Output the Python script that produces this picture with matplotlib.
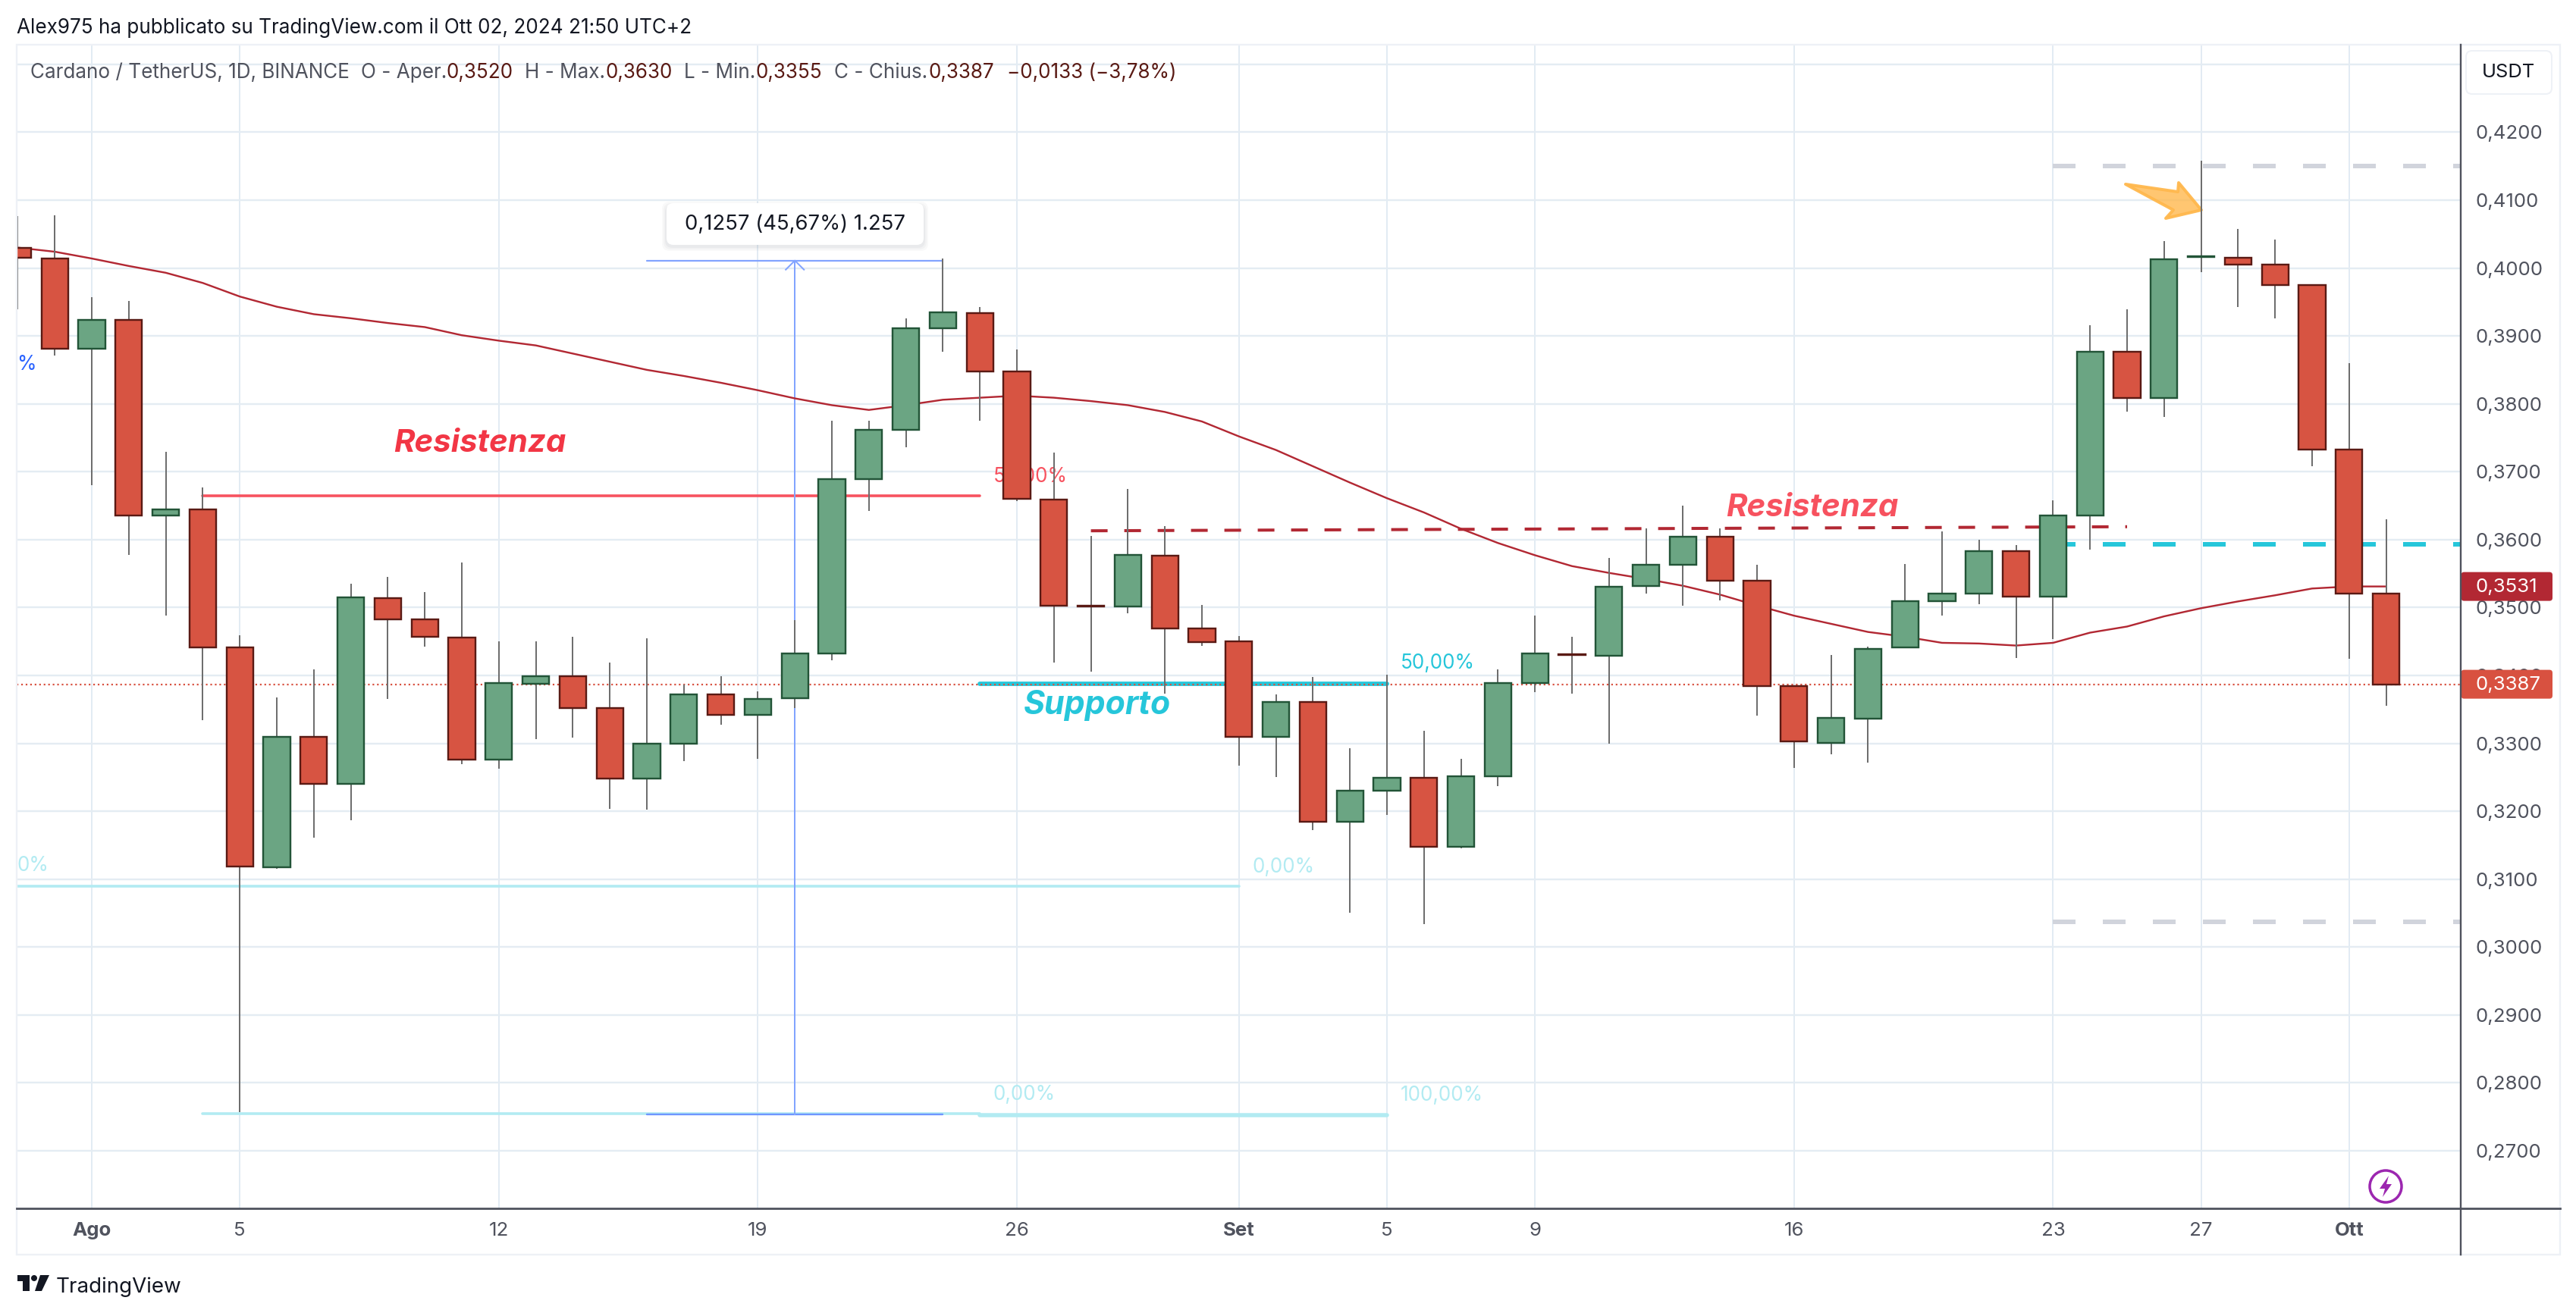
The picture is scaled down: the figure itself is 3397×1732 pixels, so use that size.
import matplotlib
matplotlib.use("Agg")
import matplotlib.pyplot as plt
import matplotlib.dates as mdates
import numpy as np
import pandas as pd
from matplotlib.patches import Polygon, Circle, FancyBboxPatch, Rectangle

plt.rcParams['font.family'] = ['Inter', 'DejaVu Sans']

W, H = 3397, 1732

# daily candles, 30 Jul -> 2 Oct 2024
dates = pd.date_range("2024-07-30", "2024-10-02", freq="D")
opens = [.4030, .4014, .3881, .3924, .3636, .3645, .3441, .3118, .3309, .3240, .3514, .3483, .3456, .3276,
         .3388, .3399, .3352, .3248, .3300, .3372, .3342, .3367, .3432, .3689, .3762, .3911, .3934, .3848,
         .3659, .3503, .3501, .3576, .3469, .3450, .3309, .3361, .3184, .3230, .3249, .3148, .3252, .3389,
         .3431, .3429, .3532, .3563, .3604, .3539, .3384, .3301, .3336, .3441, .3509, .3521, .3583, .3516,
         .3635, .3877, .3809, .4016, .4015, .4005, .3975, .3733, .3520]
closes = [.4015, .3881, .3924, .3635, .3645, .3441, .3119, .3309, .3240, .3515, .3483, .3457, .3276, .3389,
          .3399, .3352, .3248, .3300, .3372, .3342, .3365, .3432, .3689, .3762, .3911, .3935, .3848, .3660,
          .3503, .3502, .3577, .3469, .3449, .3310, .3361, .3184, .3230, .3249, .3148, .3252, .3389, .3432,
          .3430, .3531, .3563, .3604, .3539, .3384, .3303, .3337, .3439, .3509, .3521, .3583, .3516, .3636,
          .3877, .3809, .4013, .4017, .4005, .3975, .3733, .3520, .3387]
highs = [.4076, .4078, .3957, .3951, .3729, .3677, .3459, .3368, .3409, .3535, .3545, .3523, .3566, .3450,
         .3450, .3457, .3419, .3455, .3386, .3399, .3377, .3482, .3775, .3775, .3926, .4014, .3943, .3880,
         .3728, .3605, .3675, .3620, .3504, .3458, .3372, .3398, .3293, .3401, .3318, .3277, .3409, .3488,
         .3457, .3573, .3616, .3650, .3616, .3563, .3385, .3430, .3442, .3564, .3612, .3600, .3592, .3658,
         .3916, .3939, .4040, .4158, .4058, .4042, .3975, .3860, .3630]
lows = [.3939, .3871, .3680, .3577, .3488, .3334, .2757, .3115, .3161, .3187, .3365, .3442, .3269, .3263,
        .3306, .3308, .3204, .3202, .3274, .3327, .3277, .3352, .3422, .3642, .3736, .3877, .3775, .3657,
        .3419, .3406, .3491, .3373, .3444, .3267, .3250, .3172, .3050, .3194, .3034, .3145, .3237, .3375,
        .3373, .3300, .3520, .3503, .3510, .3341, .3264, .3284, .3272, .3441, .3488, .3505, .3426, .3453,
        .3585, .3789, .3781, .3994, .3943, .3926, .3708, .3424, .3355]
ma_line = [.4030, .4024, .4014, .4003, .3993, .3978, .3958, .3943, .3932, .3926, .3919, .3913, .3901, .3893,
           .3886, .3874, .3862, .3850, .3841, .3831, .3820, .3808, .3798, .3791, .3798, .3806, .3809, .3812,
           .3809, .3804, .3798, .3788, .3774, .3752, .3732, .3708, .3684, .3661, .3640, .3616, .3595, .3577,
           .3561, .3551, .3542, .3532, .3519, .3503, .3488, .3476, .3464, .3457, .3448, .3447, .3444, .3448,
           .3463, .3472, .3487, .3499, .3509, .3518, .3528, .3531, .3531]

price_ticks = [.27, .28, .29, .30, .31, .32, .33, .34, .35, .36, .37, .38, .39, .40, .41, .42, .43]
price_labels = ["0,2700", "0,2800", "0,2900", "0,3000", "0,3100", "0,3200", "0,3300", "0,3400", "0,3500",
                "0,3600", "0,3700", "0,3800", "0,3900", "0,4000", "0,4100", "0,4200", ""]
date_ticks = ["2024-08-01", "2024-08-05", "2024-08-12", "2024-08-19", "2024-08-26", "2024-09-01",
              "2024-09-05", "2024-09-09", "2024-09-16", "2024-09-23", "2024-09-27", "2024-10-01"]
date_labels = ["Ago", "5", "12", "19", "26", "Set", "5", "9", "16", "23", "27", "Ott"]

last_close = .3387
ma_last = .3531
GREEN, GREEN_EDGE = "#6BA583", "#225437"
RED, RED_EDGE = "#D75442", "#5A1A14"
CYAN = "#26C6DA"
LIGHT_CYAN = "#B2EBF2"
PINK = "#F7525F"
DARK_RED = "#B22833"
BLUE = "#2962FF"
RANGE_BLUE = "#82A4FF"
GREY_TXT = "#50535E"


def num(s):
    return mdates.date2num(pd.Timestamp(s))


def pt(px):
    # pixels to points at dpi 200
    return px * 72 / 200


fig = plt.figure(figsize=(W / 200, H / 200), dpi=200, facecolor="white")
LEFT, RIGHT, TOP, BOTTOM = 22, 3244.5, 59, 1594
ax = fig.add_axes([LEFT / W, 1 - BOTTOM / H, (RIGHT - LEFT) / W, (BOTTOM - TOP) / H])
over = fig.add_axes([0, 0, 1, 1], zorder=5)
over.set_xlim(0, W)
over.set_ylim(H, 0)
over.axis("off")

# scale of the main axes: 48.8 px per day, 8957 px per unit of price
aug1 = num("2024-08-01")
ax.set_xlim(aug1 - (121 - LEFT) / 48.8, aug1 + (RIGHT - 121) / 48.8)
ax.set_ylim(.42 - (BOTTOM - 174.4) / 8957, .42 + (174.4 - TOP) / 8957)

ax.set_yticks(price_ticks, price_labels)
ax.set_xticks([num(d) for d in date_ticks], date_labels)
ax.yaxis.tick_right()
ax.tick_params(axis="y", length=0, pad=pt(19.5), labelsize=9.3, labelcolor=GREY_TXT)
ax.tick_params(axis="x", length=0, pad=pt(18), labelsize=9.3, labelcolor=GREY_TXT)
for lab in ax.get_xticklabels():
    if lab.get_text() in ("Ago", "Set", "Ott"):
        lab.set_fontweight("bold")
ax.set_axisbelow(True)
ax.grid(axis="y", color="#E4ECF3", lw=pt(2.4))
ax.grid(axis="x", color="#E2EBF3", lw=pt(2))
for side in ("top", "left", "right", "bottom"):
    ax.spines[side].set_visible(False)


# drawings, all of them under the candles
def hl(a, b, y, c, w):
    ax.plot([num(a), num(b)], [y, y], color=c, lw=pt(w), zorder=2, solid_capstyle="round")


hl("2024-08-04", "2024-08-25", .3664, PINK, 3.6)
hl("2024-07-20", "2024-09-01", .3090, LIGHT_CYAN, 3.6)
hl("2024-08-04", "2024-08-25", .2755, LIGHT_CYAN, 3.6)
hl("2024-08-25", "2024-09-05", .2752, LIGHT_CYAN, 5.5)
hl("2024-08-25", "2024-09-05", .3388, CYAN, 5.8)
hl("2024-08-16", "2024-08-24", .4011, RANGE_BLUE, 2.2)
hl("2024-08-16", "2024-08-24", .2754, "#6E96FF", 2.4)
ax.plot([num("2024-08-28"), num("2024-09-25")], [.3613, .3619], color=DARK_RED, lw=pt(4), zorder=2,
        dashes=(22 / 4, 22 / 4), dash_capstyle="butt")
for y, col in ((.4150, "#D1D4DC"), (.3037, "#D1D4DC"), (.3593, CYAN)):
    ax.plot([num("2024-09-23"), num("2024-10-05")], [y, y], color=col, lw=pt(6), zorder=2,
            dashes=(5, 6), dash_capstyle="butt")
# price range arrow
mid = num("2024-08-20")
ax.plot([mid, mid], [.2754, .4011], color=RANGE_BLUE, lw=pt(2), zorder=2)
ax.plot([mid - .246, mid, mid + .246], [.39976, .4011, .39976], color=RANGE_BLUE, lw=pt(2), zorder=2)

ax.plot(mdates.date2num(dates), ma_line, color=DARK_RED, lw=pt(2.4), zorder=2.5)
ax.axhline(last_close, color="#D85140", lw=pt(2.2), ls=(0, (1, 1.7)), zorder=2.6)

arrow_px = [(2803, 243), (2872, 253), (2873, 241), (2903, 277), (2856, 288), (2866, 277)]
ax.add_patch(Polygon(arrow_px, closed=True, transform=over.transData, fc=(1, .72, .3, .8),
                     ec=(1, .72, .3, .95), lw=pt(4), joinstyle="round", zorder=2.7))

# candles
x = mdates.date2num(dates)
o, c, h, l = map(np.array, (opens, closes, highs, lows))
up = c >= o
ax.vlines(x, l, h, color="#6E6E6E", lw=pt(2), zorder=3)
ax.bar(x[up], (c - o)[up], bottom=o[up], width=.72, color=GREEN, edgecolor=GREEN_EDGE, lw=pt(2.4), zorder=4)
ax.bar(x[~up], (c - o)[~up], bottom=o[~up], width=.72, color=RED, edgecolor=RED_EDGE, lw=pt(2.4), zorder=4)

# labels on the chart
bi = dict(family=["Inter", "Liberation Sans"], fontweight="bold", style="italic", fontsize=15.1, zorder=3)
over.text(519, 596, "Resistenza", color="#F23645", **bi)
over.text(2276, 681, "Resistenza", color=PINK, **bi)
over.text(1349, 942, "Supporto", color=CYAN, fontweight="bold", style="italic", fontsize=15.4,
          family=["Inter", "Liberation Sans"])
small = dict(fontsize=9.4, va="center")
ax.text(num("2024-08-25") + .36, .3692, "50,00%", color=PINK, zorder=2, **small)
ax.text(num("2024-09-05") + .36, .3418, "50,00%", color=CYAN, zorder=2, **small)
ax.text(num("2024-09-01") + .36, .3118, "0,00%", color=LIGHT_CYAN, zorder=2, **small)
ax.text(num("2024-08-25") + .36, .2783, "0,00%", color=LIGHT_CYAN, zorder=2, **small)
ax.text(num("2024-09-05") + .36, .2781, "100,00%", color=LIGHT_CYAN, zorder=2, **small)
over.text(22, 1142, "0%", color=LIGHT_CYAN, **small)
over.text(22, 481, "%", color=BLUE, **small)

# frame
over.add_patch(Rectangle((LEFT, TOP), 3376 - LEFT, 1655 - TOP, fc="none", ec="#EEF1F6", lw=pt(2.4)))
over.plot([LEFT, 3376], [BOTTOM, BOTTOM], color=GREY_TXT, lw=pt(2.8))
over.plot([RIGHT, RIGHT], [TOP, 1655], color=GREY_TXT, lw=pt(2.4))

# header, legend, footer
over.text(22, 44, "Alex975 ha pubblicato su TradingView.com il Ott 02, 2024 21:50 UTC+2", color="#131722",
          fontsize=9.4)
legend_parts = [(40, "Cardano / TetherUS, 1D, BINANCE", GREY_TXT), (476, "O - Aper.", GREY_TXT),
                (589, "0,3520", RED_EDGE), (692, "H - Max.", GREY_TXT), (799, "0,3630", RED_EDGE),
                (902, "L - Min.", GREY_TXT), (997, "0,3355", RED_EDGE), (1100, "C - Chius.", GREY_TXT),
                (1225, "0,3387", RED_EDGE), (1328, "\u22120,0133 (\u22123,78%)", RED_EDGE)]
for px, txt, col in legend_parts:
    over.text(px, 103, txt, color=col, fontsize=9.4)

over.add_patch(FancyBboxPatch((3252, 67), 113, 57, boxstyle="round,pad=0,rounding_size=8", fc="white",
                              ec="#EEF1F6", lw=pt(2)))
over.text(3308, 96, "USDT", color="#131722", fontsize=9.2, ha="center", va="center")

# last value boxes on the price scale
for price, col, label in ((ma_last, DARK_RED, "0,3531"), (last_close, "#D85140", "0,3387")):
    yc = 174.4 + (.42 - price) * 8957
    over.add_patch(FancyBboxPatch((RIGHT + 1, yc - 19), 120.5, 38, boxstyle="round,pad=0,rounding_size=4", fc=col,
                                  ec="none"))
    over.text(3264, yc + 7.5, label, color="white", fontsize=9.3)

# tooltip of the price range
for grow, alpha in ((6, .05), (4, .06), (2, .08)):
    over.add_patch(FancyBboxPatch((879 - grow, 272 - grow), 339 + 2 * grow, 53 + 2 * grow,
                                  boxstyle="round,pad=0,rounding_size=10", fc="#8A8F9C", ec="none", alpha=alpha))
over.add_patch(FancyBboxPatch((879, 268), 339, 55, boxstyle="round,pad=0,rounding_size=9", fc="white", ec="none"))
over.text(1048.5, 303, "0,1257 (45,67%) 1.257", color="#131722", fontsize=9.9, ha="center")

# lightning icon
over.add_patch(Circle((3146, 1565), 21, fc="white", ec="#9C27B0", lw=pt(3.5)))
over.add_patch(Polygon([(3150, 1551), (3138, 1568), (3145, 1568), (3142, 1579), (3154, 1562), (3147, 1562)],
                       closed=True, fc="#9C27B0", ec="none"))

# TradingView logo
over.add_patch(Polygon([(22.5, 1682), (39, 1682), (39, 1703), (30, 1703), (30, 1690), (22.5, 1690)], closed=True,
                       fc="#131722", ec="none"))
over.add_patch(Circle((45, 1686), 4, fc="#131722", ec="none"))
over.add_patch(Polygon([(53, 1682), (65, 1682), (55, 1703), (46, 1703)], closed=True, fc="#131722", ec="none"))
over.text(74, 1705, "TradingView", color="#131722", fontsize=10)

fig.savefig("out.png", dpi=200, facecolor="white")
